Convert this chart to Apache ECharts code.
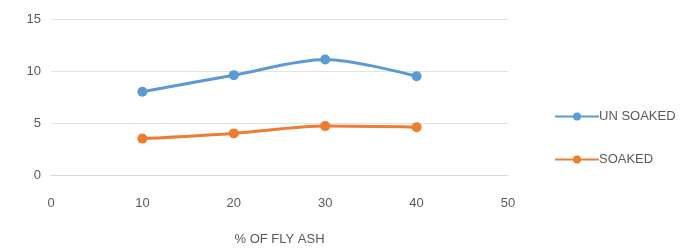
<!DOCTYPE html>
<html>
<head>
<meta charset="utf-8">
<script src="https://cdn.jsdelivr.net/npm/echarts@6/dist/echarts.min.js"></script>
<style>
  html, body { margin: 0; padding: 0; background: #fff; }
  #chart { width: 688px; height: 249px; }
</style>
</head>
<body>
<div id="chart"></div>
<script>
const flyAsh = [10, 20, 30, 40]
const unSoaked = [8.0, 9.6, 11.1, 9.5]
const soaked = [3.5, 4.0, 4.7, 4.6]
const seriesNames = ['UN SOAKED', 'SOAKED']

const pair = (xs, ys) => xs.map((x, i) => [x, ys[i]])
const font = 'Liberation Sans Narrow, Liberation Sans, sans-serif'

const c = echarts.init(document.getElementById('chart'))
c.setOption({
  animation: false,
  color: ['#5B9BD5', '#ED7D31'],
  grid: { left: 51, right: 180, top: 19, bottom: 74, outerBoundsMode: 'none' },
  legend: {
    orient: 'vertical',
    left: 549,
    top: 105,
    itemWidth: 44,
    itemHeight: 10,
    itemGap: 30,
    data: seriesNames,
    textStyle: { color: '#595959', fontSize: 13, fontFamily: font, padding: [0, 0, 0, -5] }
  },
  xAxis: {
    type: 'value',
    min: 0,
    max: 50,
    interval: 10,
    name: '% OF FLY ASH',
    nameLocation: 'middle',
    nameGap: 58,
    nameTextStyle: { color: '#595959', fontSize: 13, fontFamily: font },
    axisLine: { show: true, lineStyle: { color: '#d9d9d9' } },
    axisTick: { show: false },
    splitLine: { show: false },
    axisLabel: { color: '#595959', fontSize: 13, fontFamily: font, margin: 22 }
  },
  yAxis: {
    type: 'value',
    min: 0,
    max: 15,
    interval: 5,
    axisLine: { show: false },
    axisTick: { show: false },
    splitLine: { lineStyle: { color: '#e3e3e3' } },
    axisLabel: { color: '#595959', fontSize: 13, fontFamily: font, margin: 10 }
  },
  series: [
    {
      name: seriesNames[0],
      type: 'line',
      smooth: 0.3,
      symbol: 'circle',
      symbolSize: 10,
      lineStyle: { width: 3 },
      data: pair(flyAsh, unSoaked)
    },
    {
      name: seriesNames[1],
      type: 'line',
      smooth: 0.3,
      symbol: 'circle',
      symbolSize: 10,
      lineStyle: { width: 3 },
      data: pair(flyAsh, soaked)
    }
  ]
})
</script>
</body>
</html>
